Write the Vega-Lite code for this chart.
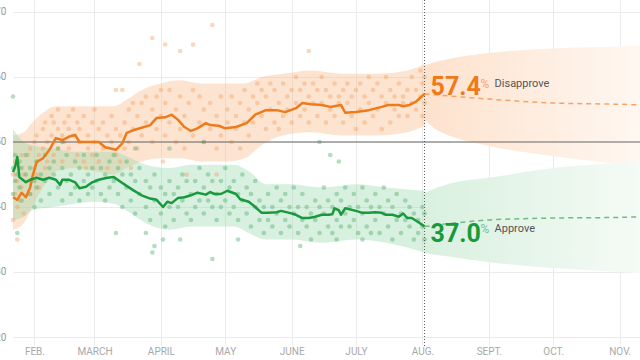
{
"$schema": "https://vega.github.io/schema/vega-lite/v6.json",
"width": 627, "height": 337,
"autosize": "none",
"padding": {"left": 13, "top": 0, "right": 0, "bottom": 23},
"background": "white",
"config": {"view": {"stroke": null}, "font": "Roboto",
  "axisX": {"grid": true, "gridColor": "#ebebeb", "domain": false, "ticks": true, "tickColor": "#ebebeb", "tickSize": 8, "labelPadding": 1, "labelFontSize": 10, "labelColor": "#a8a8a8", "labelFlush": false, "labelOverlap": false, "labelFont": "Roboto", "title": null},
  "axisY": {"grid": true, "gridColor": "#ebebeb", "domain": false, "ticks": false, "labelPadding": 7, "labelFontSize": 10, "labelColor": "#999999", "labelFont": "Roboto", "title": null}
},
"datasets": {
"fanD": [{"t":"2017-08-02","lo":53.4,"hi":61.8},{"t":"2017-08-08","lo":51.8,"hi":62.4},{"t":"2017-08-15","lo":50.8,"hi":62.9},{"t":"2017-09-01","lo":49.4,"hi":63.7},{"t":"2017-10-01","lo":47.8,"hi":64.4},{"t":"2017-11-01","lo":46.6,"hi":64.7},{"t":"2017-11-11","lo":46.2,"hi":64.8}],
"fanA": [{"t":"2017-08-02","lo":32.9,"hi":42.2},{"t":"2017-08-08","lo":32.6,"hi":43.0},{"t":"2017-08-15","lo":32.3,"hi":43.7},{"t":"2017-09-01","lo":31.5,"hi":44.5},{"t":"2017-10-01","lo":30.6,"hi":46.0},{"t":"2017-11-01","lo":30.0,"hi":46.8},{"t":"2017-11-11","lo":29.8,"hi":47.1}],
"bandD": [{"t":"2017-01-22","lo":36.5,"hi":51},{"t":"2017-01-27","lo":37.5,"hi":51.5},{"t":"2017-01-31","lo":40,"hi":53},{"t":"2017-02-05","lo":43,"hi":54.5},{"t":"2017-02-11","lo":45.5,"hi":55.5},{"t":"2017-02-20","lo":46,"hi":55.5},{"t":"2017-03-01","lo":45.5,"hi":55.5},{"t":"2017-03-10","lo":45,"hi":55.5},{"t":"2017-03-16","lo":46,"hi":56.5},{"t":"2017-03-23","lo":47,"hi":58},{"t":"2017-04-01","lo":47.5,"hi":59},{"t":"2017-04-10","lo":47.5,"hi":59.5},{"t":"2017-04-20","lo":47,"hi":59},{"t":"2017-05-01","lo":47,"hi":59},{"t":"2017-05-10","lo":47.5,"hi":59},{"t":"2017-05-18","lo":49.5,"hi":60},{"t":"2017-05-28","lo":51,"hi":60.5},{"t":"2017-06-10","lo":51.5,"hi":61},{"t":"2017-06-25","lo":51,"hi":60.5},{"t":"2017-07-10","lo":51,"hi":60.5},{"t":"2017-07-25","lo":51.5,"hi":61},{"t":"2017-08-02","lo":52.5,"hi":62}],
"bandA": [{"t":"2017-01-22","lo":38,"hi":52},{"t":"2017-01-27","lo":38.5,"hi":50},{"t":"2017-01-31","lo":39.5,"hi":49.5},{"t":"2017-02-10","lo":40,"hi":49},{"t":"2017-02-20","lo":40.5,"hi":48.5},{"t":"2017-03-01","lo":40.8,"hi":48.5},{"t":"2017-03-10","lo":40.5,"hi":48.5},{"t":"2017-03-18","lo":39,"hi":47.5},{"t":"2017-03-25","lo":37.5,"hi":46.5},{"t":"2017-04-05","lo":36.5,"hi":46},{"t":"2017-04-15","lo":37,"hi":46.5},{"t":"2017-04-25","lo":37,"hi":46.5},{"t":"2017-05-05","lo":37,"hi":46.5},{"t":"2017-05-12","lo":36,"hi":45.5},{"t":"2017-05-20","lo":35,"hi":43.5},{"t":"2017-06-01","lo":35,"hi":43.5},{"t":"2017-06-15","lo":34.5,"hi":43},{"t":"2017-07-01","lo":35,"hi":43.5},{"t":"2017-07-15","lo":34.5,"hi":43},{"t":"2017-08-02","lo":33,"hi":42.5}],
"trendD": [{"t":"2017-01-22","v":41.5},{"t":"2017-01-24","v":41.1},{"t":"2017-01-26","v":42.2},{"t":"2017-01-28","v":41.5},{"t":"2017-01-30","v":43.0},{"t":"2017-01-31","v":44.6},{"t":"2017-02-02","v":46.9},{"t":"2017-02-05","v":47.5},{"t":"2017-02-08","v":48.8},{"t":"2017-02-11","v":50.6},{"t":"2017-02-14","v":50.3},{"t":"2017-02-17","v":50.8},{"t":"2017-02-20","v":51.1},{"t":"2017-02-22","v":50.0},{"t":"2017-02-26","v":50.0},{"t":"2017-03-03","v":50.0},{"t":"2017-03-06","v":49.2},{"t":"2017-03-11","v":48.8},{"t":"2017-03-14","v":49.8},{"t":"2017-03-16","v":51.4},{"t":"2017-03-19","v":51.8},{"t":"2017-03-23","v":52.2},{"t":"2017-03-27","v":52.6},{"t":"2017-03-30","v":53.7},{"t":"2017-04-03","v":53.8},{"t":"2017-04-06","v":54.2},{"t":"2017-04-09","v":53.4},{"t":"2017-04-12","v":52.3},{"t":"2017-04-15","v":51.7},{"t":"2017-04-18","v":52.1},{"t":"2017-04-22","v":52.9},{"t":"2017-04-24","v":52.6},{"t":"2017-04-28","v":52.5},{"t":"2017-05-01","v":52.1},{"t":"2017-05-06","v":52.3},{"t":"2017-05-11","v":52.9},{"t":"2017-05-15","v":54.2},{"t":"2017-05-20","v":54.9},{"t":"2017-05-25","v":54.9},{"t":"2017-05-29","v":54.6},{"t":"2017-06-03","v":55.2},{"t":"2017-06-06","v":56.0},{"t":"2017-06-10","v":55.8},{"t":"2017-06-15","v":55.7},{"t":"2017-06-19","v":55.4},{"t":"2017-06-24","v":55.7},{"t":"2017-06-26","v":54.5},{"t":"2017-07-01","v":54.6},{"t":"2017-07-07","v":54.9},{"t":"2017-07-13","v":55.4},{"t":"2017-07-16","v":55.7},{"t":"2017-07-21","v":55.7},{"t":"2017-07-23","v":55.5},{"t":"2017-07-26","v":55.7},{"t":"2017-07-29","v":56.2},{"t":"2017-07-31","v":56.8},{"t":"2017-08-02","v":57.4}],
"trendA": [{"t":"2017-01-22","v":45.4},{"t":"2017-01-23","v":46.2},{"t":"2017-01-24","v":47.7},{"t":"2017-01-25","v":44.6},{"t":"2017-01-28","v":43.8},{"t":"2017-01-30","v":44.2},{"t":"2017-02-02","v":44.5},{"t":"2017-02-05","v":44.2},{"t":"2017-02-08","v":44.5},{"t":"2017-02-11","v":44.2},{"t":"2017-02-13","v":43.4},{"t":"2017-02-14","v":44.2},{"t":"2017-02-17","v":44.2},{"t":"2017-02-20","v":43.8},{"t":"2017-02-22","v":42.9},{"t":"2017-02-25","v":43.1},{"t":"2017-02-28","v":43.8},{"t":"2017-03-03","v":44.2},{"t":"2017-03-07","v":44.5},{"t":"2017-03-10","v":44.6},{"t":"2017-03-14","v":43.7},{"t":"2017-03-19","v":42.6},{"t":"2017-03-23","v":41.8},{"t":"2017-03-27","v":41.3},{"t":"2017-03-30","v":41.1},{"t":"2017-04-02","v":40.0},{"t":"2017-04-04","v":40.8},{"t":"2017-04-06","v":40.6},{"t":"2017-04-09","v":41.4},{"t":"2017-04-12","v":41.5},{"t":"2017-04-15","v":41.8},{"t":"2017-04-18","v":42.2},{"t":"2017-04-22","v":41.9},{"t":"2017-04-24","v":42.3},{"t":"2017-04-26","v":42.0},{"t":"2017-04-29","v":42.0},{"t":"2017-05-02","v":42.5},{"t":"2017-05-06","v":42.0},{"t":"2017-05-08","v":41.2},{"t":"2017-05-12","v":40.8},{"t":"2017-05-15","v":40.0},{"t":"2017-05-18","v":39.1},{"t":"2017-05-21","v":39.1},{"t":"2017-05-25","v":39.2},{"t":"2017-05-27","v":39.4},{"t":"2017-05-31","v":39.1},{"t":"2017-06-03","v":38.8},{"t":"2017-06-06","v":38.3},{"t":"2017-06-09","v":38.3},{"t":"2017-06-12","v":38.5},{"t":"2017-06-15","v":38.8},{"t":"2017-06-18","v":38.8},{"t":"2017-06-20","v":38.9},{"t":"2017-06-21","v":39.8},{"t":"2017-06-23","v":39.5},{"t":"2017-06-24","v":38.8},{"t":"2017-06-26","v":39.8},{"t":"2017-07-01","v":39.4},{"t":"2017-07-04","v":39.1},{"t":"2017-07-07","v":39.1},{"t":"2017-07-10","v":39.2},{"t":"2017-07-13","v":39.1},{"t":"2017-07-15","v":38.8},{"t":"2017-07-18","v":38.8},{"t":"2017-07-21","v":38.5},{"t":"2017-07-23","v":39.0},{"t":"2017-07-25","v":38.3},{"t":"2017-07-27","v":38.3},{"t":"2017-07-30","v":37.7},{"t":"2017-08-02","v":37.0}],
"fcD": [{"t":"2017-08-02","v":57.4},{"t":"2017-09-01","v":56.6},{"t":"2017-10-01","v":56.0},{"t":"2017-11-01","v":55.8},{"t":"2017-11-11","v":55.7}],
"fcA": [{"t":"2017-08-02","v":37.0},{"t":"2017-09-01","v":38.0},{"t":"2017-10-01","v":38.3},{"t":"2017-11-01","v":38.4},{"t":"2017-11-11","v":38.5}],
"pollD": [{"t":"2017-01-22","v":45},{"t":"2017-01-22","v":38},{"t":"2017-01-23","v":42},{"t":"2017-01-23","v":47},{"t":"2017-01-24","v":44},{"t":"2017-01-24","v":40},{"t":"2017-01-24","v":35},{"t":"2017-01-25","v":41},{"t":"2017-01-25","v":46},{"t":"2017-01-26","v":43},{"t":"2017-01-26","v":48},{"t":"2017-01-27","v":39},{"t":"2017-01-27","v":45},{"t":"2017-01-29","v":44},{"t":"2017-01-29","v":48},{"t":"2017-01-30","v":42},{"t":"2017-01-30","v":49},{"t":"2017-02-01","v":46},{"t":"2017-02-01","v":50},{"t":"2017-02-02","v":45},{"t":"2017-02-02","v":51},{"t":"2017-02-03","v":48},{"t":"2017-02-03","v":43},{"t":"2017-02-05","v":49},{"t":"2017-02-05","v":52},{"t":"2017-02-06","v":46},{"t":"2017-02-06","v":53},{"t":"2017-02-07","v":50},{"t":"2017-02-07","v":47},{"t":"2017-02-09","v":51},{"t":"2017-02-09","v":54},{"t":"2017-02-10","v":48},{"t":"2017-02-10","v":53},{"t":"2017-02-12","v":52},{"t":"2017-02-12","v":49},{"t":"2017-02-12","v":55},{"t":"2017-02-14","v":51},{"t":"2017-02-14","v":47},{"t":"2017-02-15","v":53},{"t":"2017-02-15","v":50},{"t":"2017-02-17","v":54},{"t":"2017-02-17","v":49},{"t":"2017-02-17","v":52},{"t":"2017-02-19","v":51},{"t":"2017-02-19","v":55},{"t":"2017-02-21","v":48},{"t":"2017-02-21","v":53},{"t":"2017-02-22","v":50},{"t":"2017-02-22","v":52},{"t":"2017-02-24","v":54},{"t":"2017-02-24","v":47},{"t":"2017-02-25","v":46},{"t":"2017-02-26","v":51},{"t":"2017-02-26","v":49},{"t":"2017-02-28","v":53},{"t":"2017-02-28","v":48},{"t":"2017-03-01","v":50},{"t":"2017-03-01","v":55},{"t":"2017-03-03","v":52},{"t":"2017-03-03","v":47},{"t":"2017-03-05","v":49},{"t":"2017-03-05","v":53},{"t":"2017-03-07","v":51},{"t":"2017-03-07","v":46},{"t":"2017-03-09","v":50},{"t":"2017-03-09","v":54},{"t":"2017-03-11","v":48},{"t":"2017-03-11","v":52},{"t":"2017-03-11","v":58},{"t":"2017-03-13","v":51},{"t":"2017-03-13","v":47},{"t":"2017-03-14","v":58},{"t":"2017-03-15","v":53},{"t":"2017-03-15","v":49},{"t":"2017-03-17","v":55},{"t":"2017-03-17","v":50},{"t":"2017-03-18","v":46},{"t":"2017-03-19","v":52},{"t":"2017-03-19","v":56},{"t":"2017-03-21","v":54},{"t":"2017-03-21","v":49},{"t":"2017-03-22","v":62},{"t":"2017-03-23","v":56},{"t":"2017-03-23","v":51},{"t":"2017-03-25","v":53},{"t":"2017-03-25","v":57},{"t":"2017-03-28","v":55},{"t":"2017-03-28","v":50},{"t":"2017-03-28","v":66},{"t":"2017-03-30","v":57},{"t":"2017-03-30","v":52},{"t":"2017-04-01","v":54},{"t":"2017-04-01","v":58},{"t":"2017-04-02","v":47},{"t":"2017-04-03","v":56},{"t":"2017-04-03","v":51},{"t":"2017-04-03","v":65},{"t":"2017-04-05","v":53},{"t":"2017-04-05","v":58},{"t":"2017-04-08","v":55},{"t":"2017-04-08","v":50},{"t":"2017-04-10","v":57},{"t":"2017-04-10","v":52},{"t":"2017-04-10","v":64},{"t":"2017-04-12","v":54},{"t":"2017-04-12","v":49},{"t":"2017-04-13","v":45},{"t":"2017-04-14","v":56},{"t":"2017-04-16","v":51},{"t":"2017-04-16","v":58},{"t":"2017-04-16","v":65},{"t":"2017-04-19","v":53},{"t":"2017-04-19","v":57},{"t":"2017-04-21","v":55},{"t":"2017-04-21","v":50},{"t":"2017-04-24","v":52},{"t":"2017-04-24","v":56},{"t":"2017-04-25","v":68},{"t":"2017-04-27","v":54},{"t":"2017-04-27","v":49},{"t":"2017-04-27","v":45},{"t":"2017-04-29","v":57},{"t":"2017-04-29","v":51},{"t":"2017-05-02","v":53},{"t":"2017-05-02","v":55},{"t":"2017-05-04","v":50},{"t":"2017-05-04","v":57},{"t":"2017-05-06","v":54},{"t":"2017-05-06","v":52},{"t":"2017-05-08","v":56},{"t":"2017-05-08","v":49},{"t":"2017-05-10","v":53},{"t":"2017-05-10","v":58},{"t":"2017-05-12","v":55},{"t":"2017-05-12","v":51},{"t":"2017-05-14","v":57},{"t":"2017-05-14","v":53},{"t":"2017-05-16","v":56},{"t":"2017-05-16","v":59},{"t":"2017-05-18","v":54},{"t":"2017-05-18","v":58},{"t":"2017-05-20","v":57},{"t":"2017-05-20","v":52},{"t":"2017-05-22","v":55},{"t":"2017-05-22","v":59},{"t":"2017-05-24","v":58},{"t":"2017-05-24","v":53},{"t":"2017-05-26","v":56},{"t":"2017-05-26","v":52},{"t":"2017-05-28","v":59},{"t":"2017-05-28","v":54},{"t":"2017-05-30","v":57},{"t":"2017-05-30","v":55},{"t":"2017-06-01","v":53},{"t":"2017-06-01","v":58},{"t":"2017-06-03","v":56},{"t":"2017-06-03","v":60},{"t":"2017-06-05","v":58},{"t":"2017-06-05","v":54},{"t":"2017-06-07","v":55},{"t":"2017-06-07","v":59},{"t":"2017-06-09","v":57},{"t":"2017-06-09","v":53},{"t":"2017-06-09","v":64},{"t":"2017-06-11","v":59},{"t":"2017-06-11","v":56},{"t":"2017-06-13","v":54},{"t":"2017-06-13","v":58},{"t":"2017-06-15","v":56},{"t":"2017-06-15","v":60},{"t":"2017-06-17","v":58},{"t":"2017-06-17","v":53},{"t":"2017-06-19","v":55},{"t":"2017-06-19","v":57},{"t":"2017-06-21","v":59},{"t":"2017-06-21","v":54},{"t":"2017-06-23","v":57},{"t":"2017-06-23","v":56},{"t":"2017-06-25","v":53},{"t":"2017-06-25","v":58},{"t":"2017-06-27","v":56},{"t":"2017-06-27","v":59},{"t":"2017-06-29","v":54},{"t":"2017-06-29","v":57},{"t":"2017-07-01","v":58},{"t":"2017-07-01","v":52},{"t":"2017-07-03","v":55},{"t":"2017-07-03","v":59},{"t":"2017-07-05","v":57},{"t":"2017-07-05","v":53},{"t":"2017-07-07","v":56},{"t":"2017-07-07","v":60},{"t":"2017-07-09","v":58},{"t":"2017-07-09","v":54},{"t":"2017-07-11","v":55},{"t":"2017-07-11","v":59},{"t":"2017-07-13","v":57},{"t":"2017-07-13","v":52},{"t":"2017-07-15","v":56},{"t":"2017-07-15","v":60},{"t":"2017-07-17","v":58},{"t":"2017-07-17","v":53},{"t":"2017-07-19","v":55},{"t":"2017-07-19","v":57},{"t":"2017-07-21","v":59},{"t":"2017-07-21","v":54},{"t":"2017-07-23","v":57},{"t":"2017-07-23","v":56},{"t":"2017-07-25","v":54},{"t":"2017-07-25","v":58},{"t":"2017-07-27","v":56},{"t":"2017-07-27","v":60},{"t":"2017-07-29","v":58},{"t":"2017-07-29","v":55},{"t":"2017-07-31","v":57},{"t":"2017-07-31","v":61},{"t":"2017-08-01","v":59},{"t":"2017-08-01","v":54},{"t":"2017-08-02","v":56},{"t":"2017-08-02","v":60}],
"pollA": [{"t":"2017-01-22","v":57},{"t":"2017-01-22","v":46},{"t":"2017-01-22","v":42},{"t":"2017-01-23","v":44},{"t":"2017-01-23","v":48},{"t":"2017-01-24","v":36},{"t":"2017-01-24","v":45},{"t":"2017-01-25","v":43},{"t":"2017-01-25","v":47},{"t":"2017-01-26","v":41},{"t":"2017-01-26","v":46},{"t":"2017-01-28","v":45},{"t":"2017-01-28","v":48},{"t":"2017-01-30","v":42},{"t":"2017-01-30","v":46},{"t":"2017-02-01","v":44},{"t":"2017-02-01","v":40},{"t":"2017-02-02","v":47},{"t":"2017-02-02","v":43},{"t":"2017-02-04","v":45},{"t":"2017-02-04","v":41},{"t":"2017-02-06","v":48},{"t":"2017-02-06","v":44},{"t":"2017-02-08","v":42},{"t":"2017-02-08","v":46},{"t":"2017-02-10","v":45},{"t":"2017-02-10","v":47},{"t":"2017-02-12","v":43},{"t":"2017-02-12","v":49},{"t":"2017-02-14","v":46},{"t":"2017-02-14","v":41},{"t":"2017-02-14","v":50},{"t":"2017-02-16","v":44},{"t":"2017-02-16","v":48},{"t":"2017-02-18","v":42},{"t":"2017-02-18","v":45},{"t":"2017-02-20","v":47},{"t":"2017-02-20","v":43},{"t":"2017-02-22","v":41},{"t":"2017-02-22","v":46},{"t":"2017-02-24","v":44},{"t":"2017-02-24","v":48},{"t":"2017-02-26","v":42},{"t":"2017-02-26","v":45},{"t":"2017-02-28","v":46},{"t":"2017-02-28","v":43},{"t":"2017-03-02","v":44},{"t":"2017-03-02","v":48},{"t":"2017-03-04","v":42},{"t":"2017-03-04","v":46},{"t":"2017-03-06","v":45},{"t":"2017-03-06","v":41},{"t":"2017-03-08","v":47},{"t":"2017-03-08","v":43},{"t":"2017-03-10","v":44},{"t":"2017-03-10","v":48},{"t":"2017-03-11","v":36},{"t":"2017-03-12","v":42},{"t":"2017-03-12","v":46},{"t":"2017-03-14","v":45},{"t":"2017-03-14","v":40},{"t":"2017-03-16","v":43},{"t":"2017-03-16","v":47},{"t":"2017-03-18","v":41},{"t":"2017-03-18","v":45},{"t":"2017-03-20","v":44},{"t":"2017-03-20","v":39},{"t":"2017-03-20","v":49},{"t":"2017-03-22","v":42},{"t":"2017-03-22","v":46},{"t":"2017-03-25","v":40},{"t":"2017-03-25","v":44},{"t":"2017-03-25","v":36},{"t":"2017-03-27","v":43},{"t":"2017-03-27","v":38},{"t":"2017-03-28","v":33},{"t":"2017-03-29","v":41},{"t":"2017-03-29","v":45},{"t":"2017-03-29","v":34},{"t":"2017-04-01","v":39},{"t":"2017-04-01","v":43},{"t":"2017-04-02","v":35},{"t":"2017-04-03","v":42},{"t":"2017-04-03","v":37},{"t":"2017-04-05","v":40},{"t":"2017-04-05","v":44},{"t":"2017-04-05","v":49},{"t":"2017-04-07","v":38},{"t":"2017-04-07","v":42},{"t":"2017-04-09","v":43},{"t":"2017-04-09","v":40},{"t":"2017-04-10","v":35},{"t":"2017-04-11","v":41},{"t":"2017-04-11","v":45},{"t":"2017-04-13","v":39},{"t":"2017-04-13","v":44},{"t":"2017-04-15","v":42},{"t":"2017-04-15","v":38},{"t":"2017-04-17","v":44},{"t":"2017-04-17","v":40},{"t":"2017-04-19","v":41},{"t":"2017-04-19","v":46},{"t":"2017-04-21","v":43},{"t":"2017-04-21","v":39},{"t":"2017-04-21","v":50},{"t":"2017-04-23","v":45},{"t":"2017-04-23","v":41},{"t":"2017-04-25","v":40},{"t":"2017-04-25","v":44},{"t":"2017-04-25","v":32},{"t":"2017-04-27","v":42},{"t":"2017-04-27","v":38},{"t":"2017-04-29","v":44},{"t":"2017-04-29","v":40},{"t":"2017-05-01","v":41},{"t":"2017-05-01","v":46},{"t":"2017-05-03","v":43},{"t":"2017-05-03","v":39},{"t":"2017-05-05","v":40},{"t":"2017-05-05","v":44},{"t":"2017-05-07","v":42},{"t":"2017-05-07","v":38},{"t":"2017-05-07","v":35},{"t":"2017-05-09","v":41},{"t":"2017-05-09","v":45},{"t":"2017-05-11","v":39},{"t":"2017-05-11","v":43},{"t":"2017-05-13","v":42},{"t":"2017-05-13","v":37},{"t":"2017-05-15","v":40},{"t":"2017-05-15","v":44},{"t":"2017-05-17","v":38},{"t":"2017-05-17","v":41},{"t":"2017-05-19","v":40},{"t":"2017-05-19","v":36},{"t":"2017-05-21","v":42},{"t":"2017-05-21","v":38},{"t":"2017-05-23","v":37},{"t":"2017-05-23","v":40},{"t":"2017-05-25","v":39},{"t":"2017-05-25","v":43},{"t":"2017-05-27","v":41},{"t":"2017-05-27","v":36},{"t":"2017-05-29","v":38},{"t":"2017-05-29","v":42},{"t":"2017-05-31","v":40},{"t":"2017-05-31","v":37},{"t":"2017-06-02","v":39},{"t":"2017-06-02","v":43},{"t":"2017-06-04","v":36},{"t":"2017-06-04","v":40},{"t":"2017-06-05","v":34},{"t":"2017-06-06","v":38},{"t":"2017-06-06","v":42},{"t":"2017-06-08","v":40},{"t":"2017-06-08","v":37},{"t":"2017-06-10","v":35},{"t":"2017-06-10","v":39},{"t":"2017-06-12","v":38},{"t":"2017-06-12","v":41},{"t":"2017-06-14","v":36},{"t":"2017-06-14","v":40},{"t":"2017-06-14","v":50},{"t":"2017-06-16","v":39},{"t":"2017-06-16","v":43},{"t":"2017-06-18","v":37},{"t":"2017-06-18","v":41},{"t":"2017-06-19","v":48},{"t":"2017-06-20","v":40},{"t":"2017-06-20","v":36},{"t":"2017-06-22","v":38},{"t":"2017-06-22","v":42},{"t":"2017-06-22","v":35},{"t":"2017-06-23","v":47},{"t":"2017-06-24","v":41},{"t":"2017-06-24","v":37},{"t":"2017-06-26","v":39},{"t":"2017-06-26","v":43},{"t":"2017-06-28","v":37},{"t":"2017-06-28","v":40},{"t":"2017-06-30","v":38},{"t":"2017-06-30","v":42},{"t":"2017-07-02","v":40},{"t":"2017-07-02","v":36},{"t":"2017-07-04","v":39},{"t":"2017-07-04","v":43},{"t":"2017-07-04","v":35},{"t":"2017-07-06","v":37},{"t":"2017-07-06","v":41},{"t":"2017-07-08","v":40},{"t":"2017-07-08","v":36},{"t":"2017-07-10","v":38},{"t":"2017-07-10","v":42},{"t":"2017-07-12","v":36},{"t":"2017-07-12","v":40},{"t":"2017-07-14","v":39},{"t":"2017-07-14","v":43},{"t":"2017-07-16","v":37},{"t":"2017-07-16","v":41},{"t":"2017-07-18","v":40},{"t":"2017-07-18","v":35},{"t":"2017-07-20","v":38},{"t":"2017-07-20","v":42},{"t":"2017-07-22","v":36},{"t":"2017-07-22","v":39},{"t":"2017-07-24","v":38},{"t":"2017-07-24","v":41},{"t":"2017-07-26","v":37},{"t":"2017-07-26","v":40},{"t":"2017-07-28","v":39},{"t":"2017-07-28","v":35},{"t":"2017-07-30","v":38},{"t":"2017-07-30","v":36},{"t":"2017-08-01","v":37},{"t":"2017-08-01","v":40},{"t":"2017-08-02","v":35},{"t":"2017-08-02","v":39}],
"labels": [{"t":"2017-08-02","v":57.4,"s":"D","num":"57.4","word":"Disapprove"},{"t":"2017-08-02","v":37.0,"s":"A","num":"37.0","word":"Approve"}],
"today": [{"t":"2017-08-02"}]
},
"layer": [
{"data": {"name": "fanD"},
 "mark": {"type": "area", "interpolate": "monotone", "color": {"gradient": "linear", "x1": 0, "x2": 1, "y1": 0, "y2": 0, "stops": [{"offset": 0, "color": "#fde2cd"}, {"offset": 1, "color": "#fff7f1"}]}},
 "encoding": {
  "x": {"field": "t", "type": "temporal", "title": null, "scale": {"domain": [{"year":2017,"month":1,"date":22},{"year":2017,"month":11,"date":10,"hours":12}]},
        "axis": {"values": [{"year":2017,"month":2,"date":1},{"year":2017,"month":3,"date":1},{"year":2017,"month":4,"date":1},{"year":2017,"month":5,"date":1},{"year":2017,"month":6,"date":1},{"year":2017,"month":7,"date":1},{"year":2017,"month":8,"date":1},{"year":2017,"month":9,"date":1},{"year":2017,"month":10,"date":1},{"year":2017,"month":11,"date":1}],
                 "labelExpr": "['JAN.','FEB.','MARCH','APRIL','MAY','JUNE','JULY','AUG.','SEPT.','OCT.','NOV.','DEC.'][month(datum.value)]"}},
  "y": {"field": "lo", "type": "quantitative", "title": null, "scale": {"domain": [20, 71.846], "nice": false, "zero": false},
        "axis": {"values": [20, 30, 40, 50, 60, 70]}},
  "y2": {"field": "hi"}
 }},
{"data": {"name": "fanA"},
 "mark": {"type": "area", "interpolate": "monotone", "color": {"gradient": "linear", "x1": 0, "x2": 1, "y1": 0, "y2": 0, "stops": [{"offset": 0, "color": "#d9f0df"}, {"offset": 1, "color": "#f5fbf6"}]}},
 "encoding": {
  "x": {"field": "t", "type": "temporal", "title": null},
  "y": {"field": "lo", "type": "quantitative", "title": null},
  "y2": {"field": "hi"}
 }},
{"data": {"name": "bandD"},
 "mark": {"type": "area", "interpolate": "monotone", "color": "#fbbf8f", "opacity": 0.42},
 "encoding": {
  "x": {"field": "t", "type": "temporal", "title": null},
  "y": {"field": "lo", "type": "quantitative", "title": null},
  "y2": {"field": "hi"}
 }},
{"data": {"name": "bandA"},
 "mark": {"type": "area", "interpolate": "monotone", "color": "#8fd4a2", "opacity": 0.35},
 "encoding": {
  "x": {"field": "t", "type": "temporal", "title": null},
  "y": {"field": "lo", "type": "quantitative", "title": null},
  "y2": {"field": "hi"}
 }},
{"data": {"name": "pollD"},
 "mark": {"type": "circle", "size": 22, "color": "#f4a062", "opacity": 0.42},
 "encoding": {
  "x": {"field": "t", "type": "temporal", "title": null},
  "y": {"field": "v", "type": "quantitative", "title": null}
 }},
{"data": {"name": "pollA"},
 "mark": {"type": "circle", "size": 22, "color": "#4fb06c", "opacity": 0.42},
 "encoding": {
  "x": {"field": "t", "type": "temporal", "title": null},
  "y": {"field": "v", "type": "quantitative", "title": null}
 }},
{"data": {"name": "today"},
 "mark": {"type": "rule", "color": "#666666", "strokeWidth": 1},
 "encoding": {
  "y": {"datum": 50, "type": "quantitative", "title": null}
 }},
{"data": {"name": "today"},
 "mark": {"type": "rule", "color": "#555555", "strokeWidth": 1, "strokeDash": [1, 2]},
 "encoding": {
  "x": {"field": "t", "type": "temporal", "title": null},
  "y": {"datum": 71.846, "type": "quantitative", "title": null},
  "y2": {"datum": 18.6}
 }},
{"data": {"name": "fcD"},
 "mark": {"type": "line", "color": "#f4a468", "strokeWidth": 1.5, "strokeDash": [5, 4], "interpolate": "monotone"},
 "encoding": {
  "x": {"field": "t", "type": "temporal", "title": null},
  "y": {"field": "v", "type": "quantitative", "title": null}
 }},
{"data": {"name": "fcA"},
 "mark": {"type": "line", "color": "#6dbd83", "strokeWidth": 1.5, "strokeDash": [5, 4], "interpolate": "monotone"},
 "encoding": {
  "x": {"field": "t", "type": "temporal", "title": null},
  "y": {"field": "v", "type": "quantitative", "title": null}
 }},
{"data": {"name": "trendD"},
 "mark": {"type": "line", "color": "#ef7a1a", "strokeWidth": 2.5, "strokeJoin": "round"},
 "encoding": {
  "x": {"field": "t", "type": "temporal", "title": null},
  "y": {"field": "v", "type": "quantitative", "title": null}
 }},
{"data": {"name": "trendA"},
 "mark": {"type": "line", "color": "#179a3c", "strokeWidth": 2.5, "strokeJoin": "round"},
 "encoding": {
  "x": {"field": "t", "type": "temporal", "title": null},
  "y": {"field": "v", "type": "quantitative", "title": null}
 }},
{"data": {"name": "labels"},
 "transform": [{"filter": "datum.s == 'D'"}],
 "encoding": {
  "x": {"field": "t", "type": "temporal", "title": null},
  "y": {"field": "v", "type": "quantitative", "title": null}
 },
 "layer": [
  {"mark": {"type": "text", "align": "left", "baseline": "alphabetic", "dx": 6, "dy": 1, "fontSize": 25, "fontWeight": "bold", "color": "#ef7a1a", "font": "Roboto"},
   "encoding": {"text": {"field": "num"}}},
  {"mark": {"type": "text", "align": "left", "baseline": "alphabetic", "dx": 56, "dy": -6, "fontSize": 12, "color": "#f3a574", "font": "Roboto"},
   "encoding": {"text": {"value": "%"}}},
  {"mark": {"type": "text", "align": "left", "baseline": "alphabetic", "dx": 70, "dy": -7, "fontSize": 11, "color": "#555555", "font": "Roboto"},
   "encoding": {"text": {"field": "word"}}}
 ]},
{"data": {"name": "labels"},
 "transform": [{"filter": "datum.s == 'A'"}],
 "encoding": {
  "x": {"field": "t", "type": "temporal", "title": null},
  "y": {"field": "v", "type": "quantitative", "title": null}
 },
 "layer": [
  {"mark": {"type": "text", "align": "left", "baseline": "alphabetic", "dx": 6, "dy": 15.5, "fontSize": 25, "fontWeight": "bold", "color": "#179a3c", "font": "Roboto"},
   "encoding": {"text": {"field": "num"}}},
  {"mark": {"type": "text", "align": "left", "baseline": "alphabetic", "dx": 56, "dy": 6.5, "fontSize": 12, "color": "#7cbf8e", "font": "Roboto"},
   "encoding": {"text": {"value": "%"}}},
  {"mark": {"type": "text", "align": "left", "baseline": "alphabetic", "dx": 70, "dy": 5.5, "fontSize": 11, "color": "#555555", "font": "Roboto"},
   "encoding": {"text": {"field": "word"}}}
 ]}
]
}
